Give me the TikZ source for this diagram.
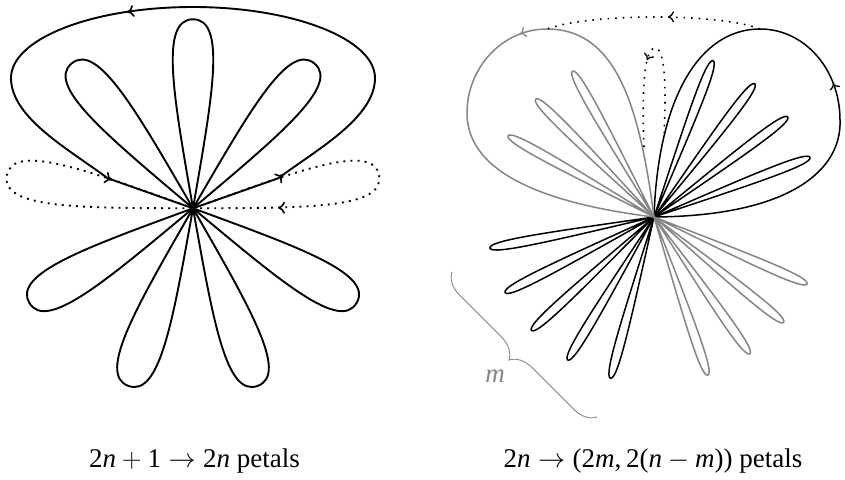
\RequirePackage{fix-cm}
\documentclass[tikz,border=0pt]{standalone}
\usepackage{fontspec}
\setmainfont{Liberation Serif}
\usetikzlibrary{arrows.meta,decorations.markings,decorations.pathreplacing,calc}
\definecolor{petalgray}{gray}{0.52}
\tikzset{
  figA/.style={line width=1.9pt},
  figB/.style={line width=1.5pt},
  dotsA/.style={line width=1.9pt, dash pattern=on 1.9pt off 5.2pt},
  dotsB/.style={line width=1.6pt, dash pattern=on 1.6pt off 6pt},
  grayline/.style={draw=petalgray},
  chevA/.style={postaction={decorate}, decoration={markings, mark=at position 0.5 with {\arrow{Computer Modern Rightarrow[length=7pt,width=12pt,line width=1.6pt]}}}},
  chevB/.style={postaction={decorate}, decoration={markings, mark=at position 0.5 with {\arrow{Computer Modern Rightarrow[length=6pt,width=11pt,line width=1.3pt]}}}},
  caption/.style={font=\fontsize{27}{32}\selectfont, anchor=base, inner sep=0pt},
}
\newcommand\fatpetal[2][]{\draw[figA,#1,shift={(C1)},rotate=#2] (0,0) .. controls (110,19) and (189,34) .. (189,0) .. controls (189,-34) and (110,-19) .. (0,0);}
\newcommand\thinpetal[2][]{\draw[figB,#1,shift={(C2)},rotate=#2] (0,0) .. controls (100,4.2) and (167,8) .. (167,0) .. controls (167,-8) and (100,-4.2) .. (0,0);}
\begin{document}
\begin{tikzpicture}[x=1pt,y=-1pt]
\useasboundingbox (0,0) rectangle (845,479);
% ---------- left figure ----------
\coordinate (C1) at (193,208.3);
\begin{scope}[shift={(C1)},rotate=170]
  \coordinate (Jl) at (89.3,14.8);
\end{scope}
\begin{scope}[shift={(C1)},rotate=10]
  \coordinate (Jr) at (89.3,-14.8);
\end{scope}
\foreach \a in {50,90,130,210,250,290,330} {\fatpetal{\a}}
\fatpetal[dotsA]{10}
\fatpetal[dotsA]{170}
\draw[figA] (C1) -- (Jr) .. controls (316,150) and (375,118) .. (375,78)
  .. controls (375,39) and (293,7) .. (193,7)
  .. controls (92,7) and (11,39) .. (11,78)
  .. controls (11,118) and (70,150) .. (Jl) -- (C1);
\path[chevA] (Jr) -- ($(Jr)!0.25!(316,150)$);
\path[chevA] (130,11.6) -- (124,12.7);
\path[chevA] (Jl) -- ($(Jl)!0.1!(C1)$);
\path[chevA] (281,207.8) -- (275,207.8);
% ---------- right figure ----------
\coordinate (C2) at (654,217);
\foreach \a in {20.9,36.8,52.9,69.3,190.7,206.9,222.8,238.9,254.9} {\thinpetal{\a}}
\draw[figB] (C2) .. controls (790,216) and (842,170) .. (840,120)
  .. controls (840,70) and (805,29) .. (760,29)
  .. controls (700,29) and (658,97) .. (C2);
\foreach \a in {119.2,135.1,150.9,288.8,305.0,320.9,336.4} {\thinpetal[grayline]{\a}}
\draw[figB,grayline] (C2) .. controls (639.7,108) and (617,29) .. (547,29)
  .. controls (502,29) and (467,68) .. (467,113)
  .. controls (467,173) and (545,203.6) .. (C2);
\draw[dotsB] (760,29) .. controls (720,13) and (590,13) .. (547,29);
\draw[dotsB] (644,147) .. controls (642,100) and (643,48) .. (655,48)
  .. controls (666,48) and (666,95) .. (664,133);
\path[chevB] (671,16.8) -- (665,16.8);
\path[chevB] (834.1,86) -- (832,80.4);
\path[chevB,color=petalgray] (522.8,32.8) -- (517.2,34.9);
\path[chevB] (648.2,57.2) -- (645.8,62.8);
% brace
\draw[petalgray, line width=0.9pt, decorate, decoration={brace, mirror, amplitude=22pt}] (452,272) -- (597,417);
\node[caption, text=petalgray] (mlab) at (495,382) {\textit{m}};
% captions
\node[caption] (capA) at (194.5,467) {2\textit{n}${}+{}$1${}\rightarrow{}$2\textit{n} petals};
\node[caption] (capB) at (653,467) {2\textit{n}${}\rightarrow{}$(2\textit{m},\hspace{0.17em}2(\textit{n}${}-{}$\textit{m})) petals};
\end{tikzpicture}
\end{document}
